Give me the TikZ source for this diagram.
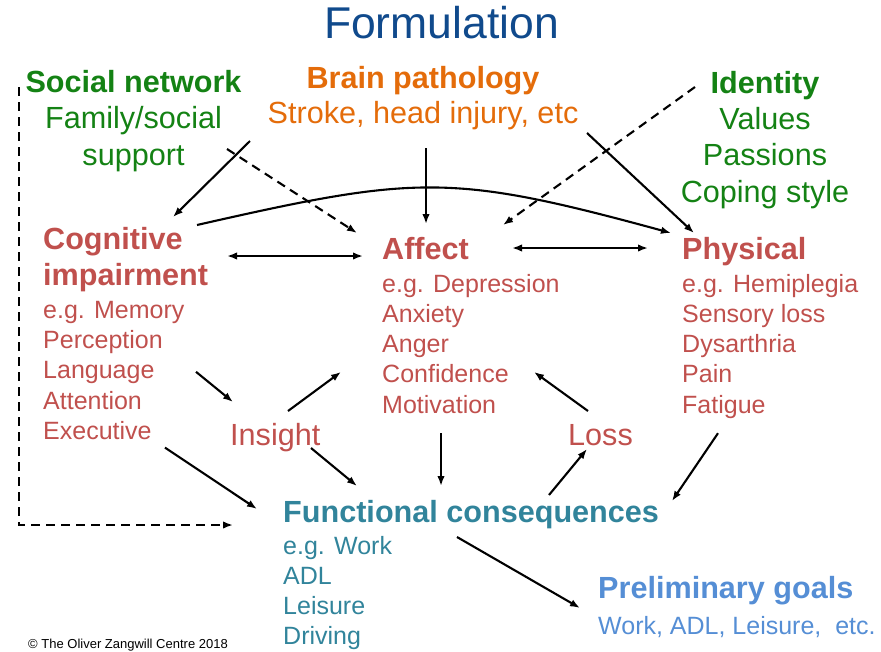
\documentclass[tikz,border=0pt]{standalone}
\usepackage{fontspec}
\setmainfont{Liberation Sans}
\usetikzlibrary{arrows.meta}

\definecolor{titleblue}{RGB}{16,74,140}
\definecolor{netgreen}{RGB}{20,130,20}
\definecolor{brainorange}{RGB}{228,108,10}
\definecolor{symred}{RGB}{192,80,77}
\definecolor{functeal}{RGB}{49,132,155}
\definecolor{goalblue}{RGB}{85,142,213}

\tikzset{
  >={Latex[length=10pt,width=7.5pt]},
  head/.style={font=\fontsize{30.6}{36}\selectfont\bfseries, inner sep=0pt},
  big/.style={font=\fontsize{30.6}{36}\selectfont, inner sep=0pt},
  item/.style={font=\fontsize{25}{30}\selectfont, inner sep=0pt, anchor=base west},
  link/.style={line width=2.1pt},
  dashlink/.style={line width=2.1pt, dash pattern=on 9pt off 6pt}
}

\begin{document}
\begin{tikzpicture}[x=1pt,y=-1pt]
\useasboundingbox (0,0) rectangle (881,651);

\node[anchor=base, inner sep=0pt, font=\fontsize{44.5}{50}\selectfont, color=titleblue] (title) at (441.5,38) {Formulation};

% top row
\node[head, anchor=base, color=netgreen] (social) at (133.5,92) {Social network};
\node[big, anchor=base, color=netgreen] (family) at (133.5,128) {Family/social};
\node[big, anchor=base, color=netgreen] (support) at (133.5,165) {support};
\node[head, anchor=base, color=brainorange] (brain) at (423,88) {Brain pathology};
\node[big, anchor=base, color=brainorange] (stroke) at (423,123) {Stroke, head injury, etc};
\node[head, anchor=base, color=netgreen] (identity) at (765,93) {Identity};
\node[big, anchor=base, color=netgreen] (values) at (765,129) {Values};
\node[big, anchor=base, color=netgreen] (passions) at (765,165.5) {Passions};
\node[big, anchor=base, color=netgreen] (coping) at (765,202) {Coping style};

% middle row
\node[head, anchor=base west, color=symred] (cog) at (43,249) {Cognitive};
\node[head, anchor=base west, color=symred] (impair) at (43,285) {impairment};
\foreach \txt [count=\i from 0] in {e.g. Memory, Perception, Language, Attention, Executive}
  \node[item, color=symred] (cogitem\i) at (43,318+30.4*\i) {\txt};
\node[head, anchor=base west, color=symred] (affect) at (382,259) {Affect};
\foreach \txt [count=\i from 0] in {e.g. Depression, Anxiety, Anger, Confidence, Motivation}
  \node[item, color=symred] (affitem\i) at (382,292+30.3*\i) {\txt};
\node[head, anchor=base west, color=symred] (physical) at (682,259) {Physical};
\foreach \txt [count=\i from 0] in {e.g. Hemiplegia, Sensory loss, Dysarthria, Pain, Fatigue}
  \node[item, color=symred] (phyitem\i) at (682,292+30.3*\i) {\txt};
\node[big, anchor=base west, color=symred] (insight) at (230,445) {Insight};
\node[big, anchor=base west, color=symred] (loss) at (568,445) {Loss};

% bottom row
\node[head, anchor=base west, color=functeal] (func) at (283,522) {Functional consequences};
\foreach \txt [count=\i from 0] in {e.g. Work, ADL, Leisure, Driving}
  \node[item, color=functeal] (funcitem\i) at (283,554+30.3*\i) {\txt};
\node[head, anchor=base west, color=goalblue] (goals) at (598,598) {Preliminary goals};
\node[item, color=goalblue] (goalitems) at (598,634) {Work, ADL, Leisure,\ \ etc.};
\node[anchor=base west, inner sep=0pt, font=\fontsize{13}{15}\selectfont] (credit) at (28,648) {\textcopyright{} The Oliver Zangwill Centre 2018};

% connectors
\draw[link,->] ([shift={(116.5,-24)}]support.base) -- ([shift={(130,-32)}]cog.base west);
\draw[dashlink,->] ([shift={(93.5,-16)}]support.base) -- ([shift={(-25,-26)}]affect.base west);
\draw[link,->] ([shift={(3,25)}]stroke.base) -- ([shift={(44,-35)}]affect.base west);
\draw[link,->] ([shift={(154,-24)}]cog.base west) .. controls +(220,-50) and +(-220,-60) .. ([shift={(-11,-26)}]physical.base west);
\draw[dashlink,->] ([shift={(-70,-6)}]identity.base) -- ([shift={(121,-34)}]affect.base west);
\draw[link,->] ([shift={(164,10)}]stroke.base) -- ([shift={(12,-26)}]physical.base west);
\draw[link,<->] ([shift={(184,7)}]cog.base west) -- ([shift={(-19,-3)}]affect.base west);
\draw[link,<->] ([shift={(130,-11)}]affect.base west) -- ([shift={(-34,-11)}]physical.base west);
\draw[link,->] ([shift={(153,-7)}]cogitem2.base west) -- ([shift={(3,-43)}]insight.base west);
\draw[link,->] ([shift={(58,-34)}]insight.base west) -- ([shift={(-41,-11)}]affitem3.base west);
\draw[link,->] ([shift={(122,8)}]cogitem4.base west) -- ([shift={(-26,-13)}]func.base west);
\draw[link,->] ([shift={(81,3)}]insight.base west) -- ([shift={(74,-36)}]func.base west);
\draw[link,->] ([shift={(59,20)}]affitem4.base west) -- ([shift={(158,-36)}]func.base west);
\draw[link,->] ([shift={(266,-27)}]func.base west) -- ([shift={(19,4)}]loss.base west);
\draw[link,->] ([shift={(20,-34)}]loss.base west) -- ([shift={(152,-11)}]affitem3.base west);
\draw[link,->] ([shift={(36,20)}]phyitem4.base west) -- ([shift={(389,-21)}]func.base west);
\draw[link,->] ([shift={(174,15)}]func.base west) -- ([shift={(-18,10)}]goals.base west);
\draw[dashlink,->] ([shift={(-114.5,-5)}]social.base) |- ([shift={(-50,3)}]func.base west);
\end{tikzpicture}
\end{document}
